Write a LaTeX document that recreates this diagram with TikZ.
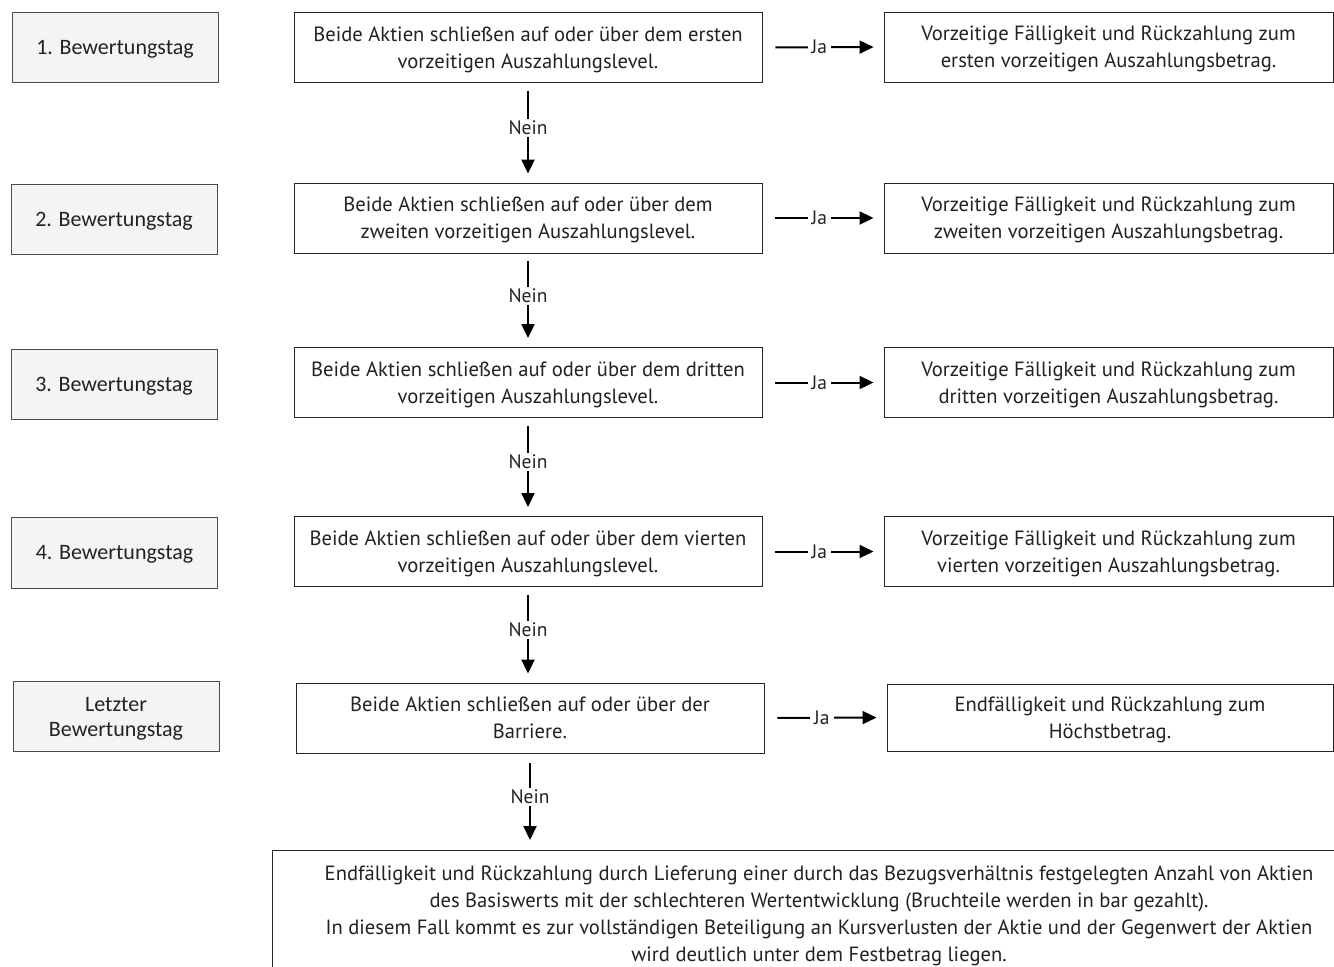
\documentclass[tikz,border=0pt]{standalone}
\usepackage{fontspec}
\setmainfont{PT Sans}
\newfontfamily\calib{Carlito}
\usetikzlibrary{arrows.meta}
\definecolor{txt}{HTML}{222222}
\definecolor{labfill}{HTML}{F4F4F4}
\begin{document}
\begin{tikzpicture}[x=1pt,y=-1pt,
  lab/.style={draw=black!70, fill=labfill, line width=0.8pt, minimum width=206pt, minimum height=70pt, font=\calib\fontsize{22}{25}\selectfont, text=txt, align=center, inner sep=0pt, text depth=0pt},
  cond/.style={draw=black!85, line width=0.9pt, minimum width=468pt, minimum height=70pt, font=\fontsize{20.6}{27}\selectfont, text=txt, align=center, inner sep=0pt, text depth=0pt},
  res/.style={cond, minimum width=449pt},
  arr/.style={line width=2pt, -{Triangle[length=14pt,width=13pt]}},
  lbl/.style={fill=white, font=\fontsize{19.5}{20}\selectfont, text=txt, inner sep=2pt}
]
\fill[white] (0,0) rectangle (1334,967);
\useasboundingbox (0,0) rectangle (1334,967);

\node[lab] (L1) at (115,47) {1. Bewertungstag};
\node[lab] (L2) at (114,219) {2. Bewertungstag};
\node[lab] (L3) at (114,384) {3. Bewertungstag};
\node[lab, minimum height=71pt] (L4) at (114.5,552.5) {4. Bewertungstag};
\node[lab] (L5) at (116,716.5) {Letzter\\Bewertungstag};

\node[cond] (M1) at (528,47.5) {Beide Aktien schließen auf oder über dem ersten\\vorzeitigen Auszahlungslevel.};
\node[cond] (M2) at (528,218) {Beide Aktien schließen auf oder über dem\\zweiten vorzeitigen Auszahlungslevel.};
\node[cond] (M3) at (528,382.5) {Beide Aktien schließen auf oder über dem dritten\\vorzeitigen Auszahlungslevel.};
\node[cond] (M4) at (528,551.5) {Beide Aktien schließen auf oder über dem vierten\\vorzeitigen Auszahlungslevel.};
\node[cond] (M5) at (530,718) {Beide Aktien schließen auf oder über der\\Barriere.};

\node[res] (R1) at (1108.5,47) {Vorzeitige Fälligkeit und Rückzahlung zum\\ersten vorzeitigen Auszahlungsbetrag.};
\node[res] (R2) at (1108.5,218) {Vorzeitige Fälligkeit und Rückzahlung zum\\zweiten vorzeitigen Auszahlungsbetrag.};
\node[res] (R3) at (1108.5,382.5) {Vorzeitige Fälligkeit und Rückzahlung zum\\dritten vorzeitigen Auszahlungsbetrag.};
\node[res] (R4) at (1108.5,551.5) {Vorzeitige Fälligkeit und Rückzahlung zum\\vierten vorzeitigen Auszahlungsbetrag.};
\node[res, minimum width=446pt, minimum height=67pt] (R5) at (1110,717.5) {Endfälligkeit und Rückzahlung zum\\Höchstbetrag.};

\node[cond, minimum width=1094pt, minimum height=126pt, anchor=north] (B) at (819,850) {Endfälligkeit und Rückzahlung durch Lieferung einer durch das Bezugsverhältnis festgelegten Anzahl von Aktien\\des Basiswerts mit der schlechteren Wertentwicklung (Bruchteile werden in bar gezahlt).\\In diesem Fall kommt es zur vollständigen Beteiligung an Kursverlusten der Aktie und der Gegenwert der Aktien\\wird deutlich unter dem Festbetrag liegen.};

\foreach \i in {1,...,5}{
  \draw[arr, shorten <=13pt, shorten >=10pt] (M\i.east) -- node[lbl, pos=0.47, inner xsep=4pt]{Ja} (R\i.west);
}
\foreach \i/\j in {1/2,2/3,3/4,4/5}{
  \draw[arr, shorten <=8pt, shorten >=9pt] (M\i.south) -- node[lbl, pos=0.45]{Nein} (M\i.south |- M\j.north);
}
\draw[arr, shorten <=10pt, shorten >=10pt] (M5.south) -- node[lbl, pos=0.45]{Nein} (M5.south |- B.north);
\end{tikzpicture}
\end{document}
